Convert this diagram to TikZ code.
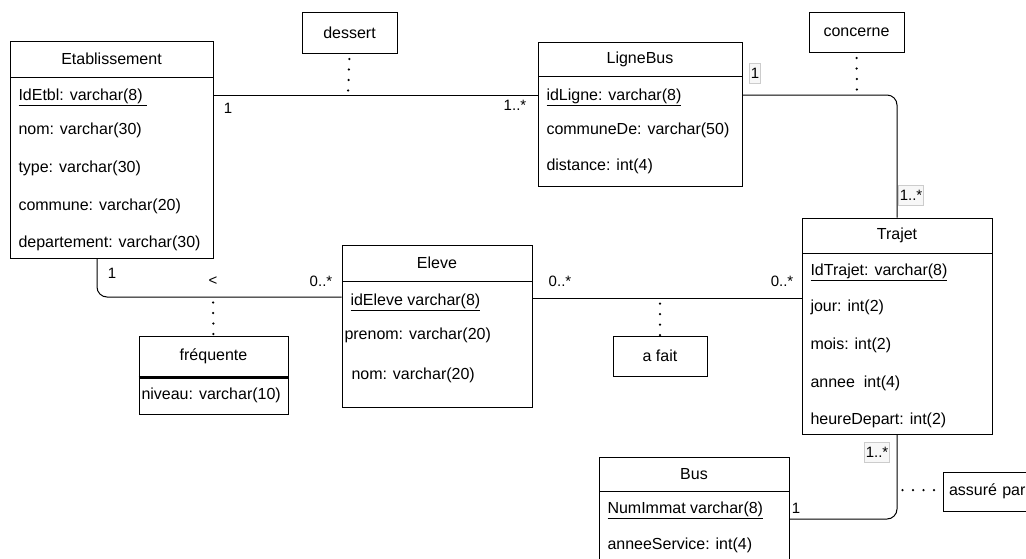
\documentclass[tikz,border=0pt]{standalone}
\usepackage{fontspec}
\setmainfont{Liberation Sans}
\tikzstyle{hd}=[shape=rectangle,
                draw=black,
                line width=1pt,
                inner sep=0pt]
\tikzstyle{attr}=[anchor=west,
                  inner sep=0pt]
\tikzstyle{card}=[inner sep=1.5pt,
                  font=\fontsize{15}{18}\selectfont]
\tikzstyle{cardbox}=[card,
                     draw=black!20,
                     fill=black!3,
                     minimum height=20pt]
\tikzstyle{dots}=[line width=2.5pt,
                  dash pattern=on 0pt off 10.5pt,
                  dash phase=5pt,
                  line cap=round]

\begin{document}
\begin{tikzpicture}[x=1pt,y=-1pt,line width=1pt,font=\fontsize{16}{19}\selectfont]
\useasboundingbox (0,0) rectangle (1026,558);
\clip (0,0) rectangle (1026,558);

% Etablissement
\node[hd,minimum width=203pt,minimum height=36pt] (etab) at (111.5,59) {Etablissement};
\node[hd,minimum width=203pt,minimum height=181pt] (etabbody) at (111.5,167.5) {};
\node[attr] (etab1) at (18,97)  {\underline{IdEtbl: varchar(8)\ }};
\node[attr] (etab2) at (18,130) {nom: varchar(30)};
\node[attr] (etab3) at (18,168) {type: varchar(30)};
\node[attr] (etab4) at (18,206) {commune: varchar(20)};
\node[attr] (etab5) at (18,243) {departement: varchar(30)};

% LigneBus
\node[hd,minimum width=204pt,minimum height=34pt] (ligne) at (640,59) {LigneBus};
\node[hd,minimum width=204pt,minimum height=110pt] (lignebody) at (640,131) {};
\node[attr] (ligne1) at (546,97)  {\underline{idLigne: varchar(8)}};
\node[attr] (ligne2) at (546,130) {communeDe: varchar(50)};
\node[attr] (ligne3) at (546,166) {distance: int(4)};

% Trajet
\node[hd,minimum width=190pt,minimum height=35pt] (trajet) at (897,235.5) {Trajet};
\node[hd,minimum width=190pt,minimum height=181pt] (trajetbody) at (897,343.5) {};
\node[attr] (trajet1) at (810,272) {\underline{IdTrajet: varchar(8)}};
\node[attr] (trajet2) at (810,307) {jour: int(2)};
\node[attr] (trajet3) at (810,345) {mois: int(2)};
\node[attr] (trajet4) at (810,383) {annee\ \ int(4)};
\node[attr] (trajet5) at (810,420) {heureDepart: int(2)};

% Eleve
\node[hd,minimum width=190pt,minimum height=36pt] (eleve) at (437,263) {Eleve};
\node[hd,minimum width=190pt,minimum height=126pt] (elevebody) at (437,344) {};
\node[attr] (eleve1) at (350,302) {\underline{idEleve varchar(8)}};
\node[attr] (eleve2) at (344,335) {prenom: varchar(20)};
\node[attr] (eleve3) at (351,375) {nom: varchar(20)};

% Bus
\node[hd,minimum width=190pt,minimum height=34pt] (bus) at (694,474) {Bus};
\node[hd,minimum width=190pt,minimum height=110pt] (busbody) at (694,546) {};
\node[attr] (bus1) at (607,510) {\underline{NumImmat varchar(8)}};
\node[attr] (bus2) at (607,545) {anneeService: int(4)};

% associations
\node[hd,minimum width=95pt,minimum height=41pt] (dessert) at (349.5,32.5) {dessert};
\node[hd,minimum width=95pt,minimum height=40pt] (concerne) at (856.5,32) {concerne};
\node[hd,minimum width=94pt,minimum height=40pt] (afait) at (660,356) {a fait};
\node[hd,minimum width=117pt,minimum height=39pt,text width=105pt] (assure) at (1001.5,491.5) {assuré par};
\node[hd,minimum width=149pt,minimum height=41pt] (freq) at (213.5,356.5) {fréquente};
\node[hd,minimum width=149pt,minimum height=37pt] (freqbody) at (213.5,395.5) {};
\node[attr] (freq1) at (141,395) {niveau: varchar(10)};
\draw[line width=2.5pt] (freq.south west) -- (freq.south east);

% bends and midpoints
\coordinate (desc) at (348,95);
\coordinate (conc) at (857,95);
\coordinate (freqbend) at (97,297);
\coordinate (freqc) at (213,297);
\coordinate (faitc) at (660,298);
\coordinate (busbend) at (897,519);
\coordinate (assurc) at (897,490);

% links
\draw (etabbody.east |- desc) -- (lignebody.west |- desc);
\draw[rounded corners=10pt] (lignebody.east |- conc) -- (trajet.north |- conc) -- (trajet.north);
\draw[rounded corners=10pt] (etabbody.south -| freqbend) -- (freqbend) -- (elevebody.west |- freqbend);
\draw (elevebody.east |- faitc) -- (trajetbody.west |- faitc);
\draw[rounded corners=10pt] (busbody.east |- busbend) -- (busbend) -- (trajetbody.south);

% dotted links to associations
\draw[dots] (dessert.south) -- (desc);
\draw[dots] (concerne.south) -- (conc);
\draw[dots] (freqc) -- (freq.north);
\draw[dots] (faitc) -- (afait.north);
\draw[dots] (assurc) -- (assure.west |- assurc);

% cardinalities
\node[card] (c1) at (228,108) {1};
\node[card] (c2) at (515,105) {1..*};
\node[cardbox] (c3) at (755,73) {1};
\node[cardbox] (c4) at (911,195) {1..*};
\node[card] (c5) at (112,273) {1};
\node[card] (c6) at (213,281) {<};
\node[card] (c7) at (321,281) {0..*};
\node[card] (c8) at (560,281) {0..*};
\node[card] (c9) at (782,281) {0..*};
\node[card] (c10) at (796,508) {1};
\node[cardbox] (c11) at (877,452) {1..*};
\end{tikzpicture}
\end{document}
